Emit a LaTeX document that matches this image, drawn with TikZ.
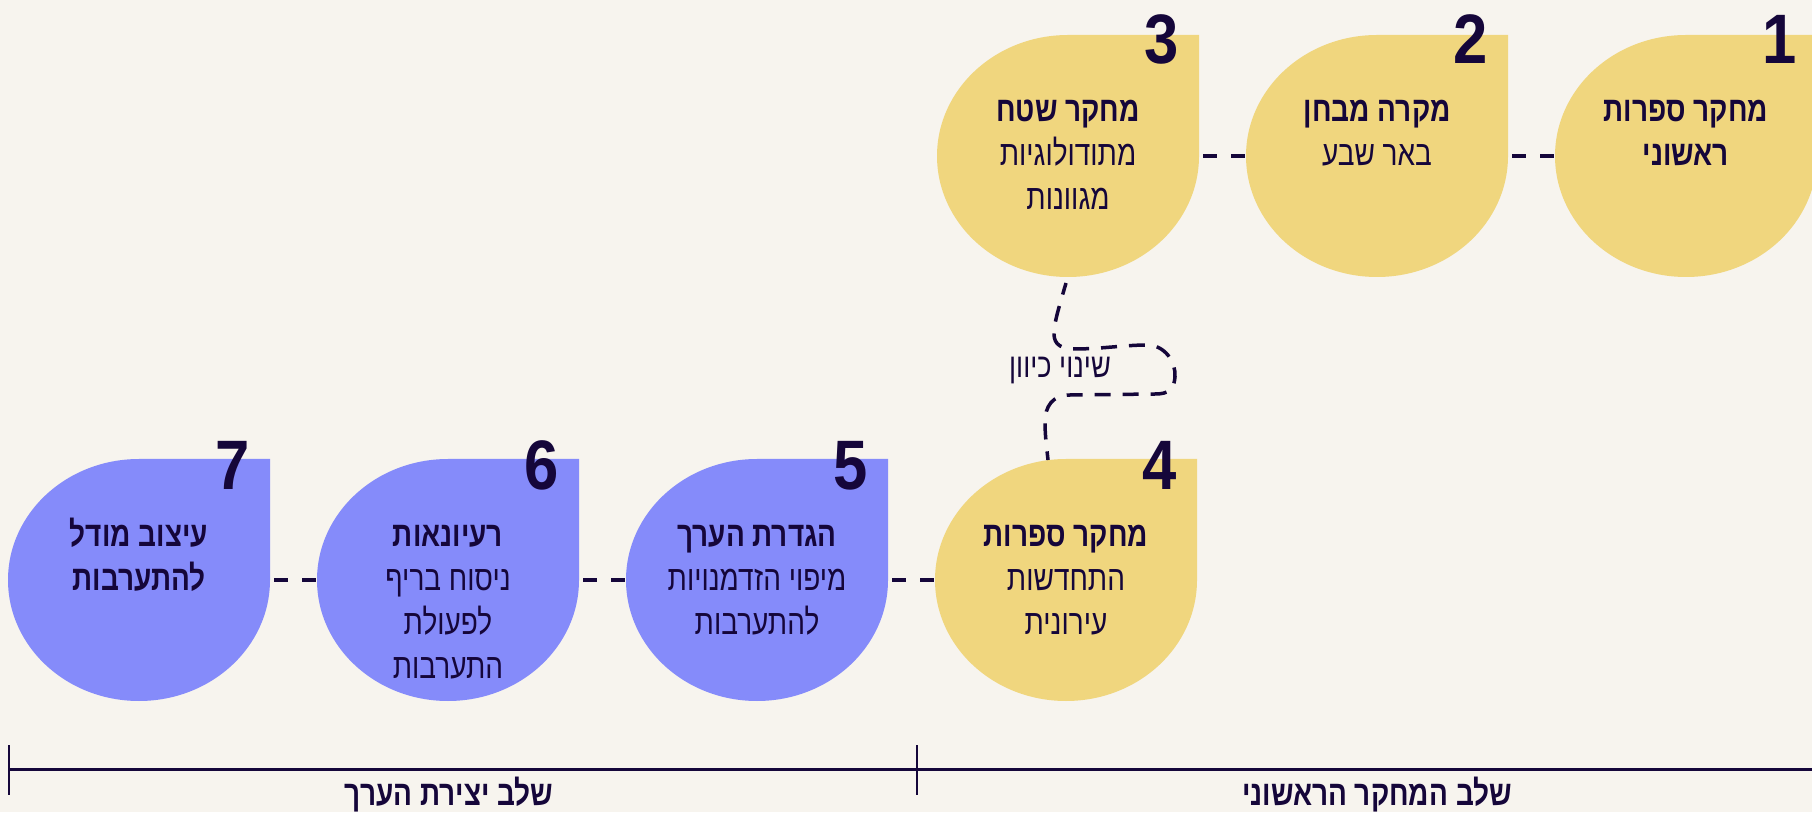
\documentclass[tikz,border=0pt]{standalone}
\usepackage{fontspec}
\setmainfont{Liberation Sans}
\newfontfamily\hebfont[Script=Hebrew,FakeStretch=0.8]{Liberation Sans}
\newfontfamily\numfont[FakeStretch=0.88]{Liberation Sans}
\TeXXeTstate=1
\newcommand\heb[1]{\beginR#1\endR}
\definecolor{bgc}{HTML}{F7F4EE}
\definecolor{yel}{HTML}{F0D67E}
\definecolor{blu}{HTML}{858BFA}
\definecolor{ink}{HTML}{15063A}
\tikzset{
  dropshape/.style={minimum width=262pt, minimum height=242pt, inner sep=0pt, outer sep=0pt,
    path picture={\fill[#1] (path picture bounding box.east) -- (path picture bounding box.north east)
      -- (path picture bounding box.north) arc[start angle=90,end angle=360,x radius=131pt,y radius=121pt] -- cycle;}},
  txt/.style={anchor=base, align=center, text=ink, inner sep=0pt, font=\hebfont\fontsize{35}{44}\selectfont},
  num/.style={anchor=base east, text=ink, inner sep=0pt, font=\numfont\bfseries\fontsize{70}{70}\selectfont},
  conn/.style={draw=ink, line width=3.5pt, dash pattern=on 14pt off 14pt, dash phase=24pt},
  curvy/.style={draw=ink, line width=3.5pt, dash pattern=on 16pt off 12pt, dash phase=4pt},
  phase/.style={anchor=base, text=ink, inner sep=0pt, font=\hebfont\bfseries\fontsize{35}{44}\selectfont}
}
\begin{document}
\begin{tikzpicture}[x=1pt,y=1pt]
\fill[bgc] (0,0) rectangle (1812,812);
\useasboundingbox (0,0) rectangle (1812,812);
% shapes
\node[dropshape=yel] (s1) at (1686,656) {};
\node[dropshape=yel] (s2) at (1377,656) {};
\node[dropshape=yel] (s3) at (1068,656) {};
\node[dropshape=yel] (s4) at (1066,232) {};
\node[dropshape=blu] (s5) at (757,232) {};
\node[dropshape=blu] (s6) at (448,232) {};
\node[dropshape=blu] (s7) at (139,232) {};
% numbers
\node[num] (n1) at (1797,748) {1};
\node[num] (n2) at (1488,748) {2};
\node[num] (n3) at (1179,748) {3};
\node[num] (n4) at (1177,323) {4};
\node[num] (n5) at (868,323) {5};
\node[num] (n6) at (559,323) {6};
\node[num] (n7) at (250,323) {7};
% texts (anchor base = baseline of the last line)
\node[txt] (t1) at (1686,646) {\bfseries\heb{מחקר ספרות}\\\bfseries\heb{ראשוני}};
\node[txt] (t2) at (1377,646) {\bfseries\heb{מקרה מבחן}\\\heb{באר שבע}};
\node[txt] (t3) at (1068,602) {\bfseries\heb{מחקר שטח}\\\heb{מתודולוגיות}\\\heb{מגוונות}};
\node[txt] (t4) at (1066,178) {\bfseries\heb{מחקר ספרות}\\\heb{התחדשות}\\\heb{עירונית}};
\node[txt] (t5) at (757,178) {\bfseries\heb{הגדרת הערך}\\\heb{מיפוי הזדמנויות}\\\heb{להתערבות}};
\node[txt] (t6) at (448,134) {\bfseries\heb{רעיונאות}\\\heb{ניסוח בריף}\\\heb{לפעולת}\\\heb{התערבות}};
\node[txt] (t7) at (139,222) {\bfseries\heb{עיצוב מודל}\\\bfseries\heb{להתערבות}};
% straight connectors
\draw[conn] (s2.east) -- (s1.west);
\draw[conn] (s3.east) -- (s2.west);
\draw[conn] (s5.east) -- (s4.west);
\draw[conn] (s6.east) -- (s5.west);
\draw[conn] (s7.east) -- (s6.west);
% change of direction
\coordinate (c0) at (1066,529);
\coordinate (c1) at (1048,352);
\draw[curvy] (c0) .. controls (1060,508) and (1054,490) .. (1054,478)
  .. controls (1054,467) and (1062,463) .. (1075,463)
  .. controls (1100,463) and (1125,467) .. (1147,467)
  .. controls (1165,467) and (1176,450) .. (1175,435)
  .. controls (1174,422) and (1168,418) .. (1155,418)
  -- (1070,417)
  .. controls (1052,417) and (1045,405) .. (1045,390)
  .. controls (1045,375) and (1047,362) .. (c1);
\node[txt, font=\hebfont\fontsize{34}{34}\selectfont] (lbl) at (1060,434) {\heb{שינוי כיוון}};
% timeline
\coordinate (l0) at (9,42.5);
\coordinate (l1) at (1812,42.5);
\coordinate (k0a) at (9,67); \coordinate (k0b) at (9,17);
\coordinate (k1a) at (917,67); \coordinate (k1b) at (917,17);
\draw[ink, line width=2.5pt] (l0) -- (l1);
\draw[ink, line width=1.5pt] (k0a) -- (k0b);
\draw[ink, line width=1.5pt] (k1a) -- (k1b);
\node[phase] (p1) at (449,7) {\heb{שלב יצירת הערך}};
\node[phase] (p2) at (1377,7) {\heb{שלב המחקר הראשוני}};
\end{tikzpicture}
\end{document}
